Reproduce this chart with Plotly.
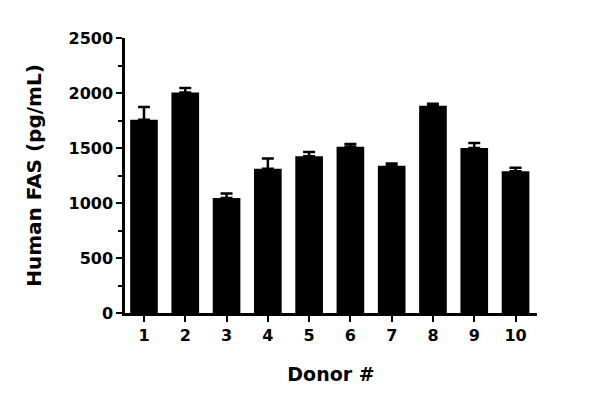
import plotly.graph_objects as go

donors = ["1", "2", "3", "4", "5", "6", "7", "8", "9", "10"]
positions = [1, 2, 3, 4, 5, 6, 7, 8, 9, 10]
values = [1757, 2005, 1045, 1312, 1424, 1512, 1339, 1885, 1500, 1288]
errors = [116, 40, 42, 93, 40, 24, 21, 18, 45, 33]
y_ticks = [0, 500, 1000, 1500, 2000, 2500]

FONT = "DejaVu Sans"

fig = go.Figure()
fig.add_trace(go.Bar(
    x=positions, y=values, width=0.67,
    marker=dict(color="black", line=dict(color="black", width=0)),
    error_y=dict(type="data", array=errors, arrayminus=[0] * len(errors),
                 symmetric=False, color="black", thickness=2.5, width=6),
))

fig.update_layout(
    width=600, height=406,
    margin=dict(l=117, r=71, t=30, b=101),
    plot_bgcolor="white", paper_bgcolor="white",
    showlegend=False,
    font=dict(family=FONT, color="black", size=16, weight="bold"),
    xaxis=dict(
        range=[0.54, 10.52], tickmode="array", tickvals=positions, ticktext=donors,
        showline=True, linecolor="black", linewidth=2.5, ticks="outside",
        ticklen=6, tickwidth=2, tickcolor="black", showgrid=False, zeroline=False,
        automargin=False,
        tickfont=dict(family=FONT, size=16, weight="bold"),
        title=dict(text="Donor #", font=dict(family=FONT, size=19, weight="bold"), standoff=24),
    ),
    yaxis=dict(
        range=[0, 2500], tickmode="array", tickvals=y_ticks,
        showline=True, linecolor="black", linewidth=2.5, ticks="outside",
        ticklen=6, tickwidth=2, tickcolor="black", showgrid=False, zeroline=False,
        automargin=False,
        minor=dict(dtick=250, ticks="outside", ticklen=4, tickwidth=2, tickcolor="black", showgrid=False),
        tickfont=dict(family=FONT, size=16, weight="bold"),
        title=dict(text="Human FAS (pg/mL)", font=dict(family=FONT, size=20, weight="bold"), standoff=22),
    ),
)

fig.write_html("out.html")
